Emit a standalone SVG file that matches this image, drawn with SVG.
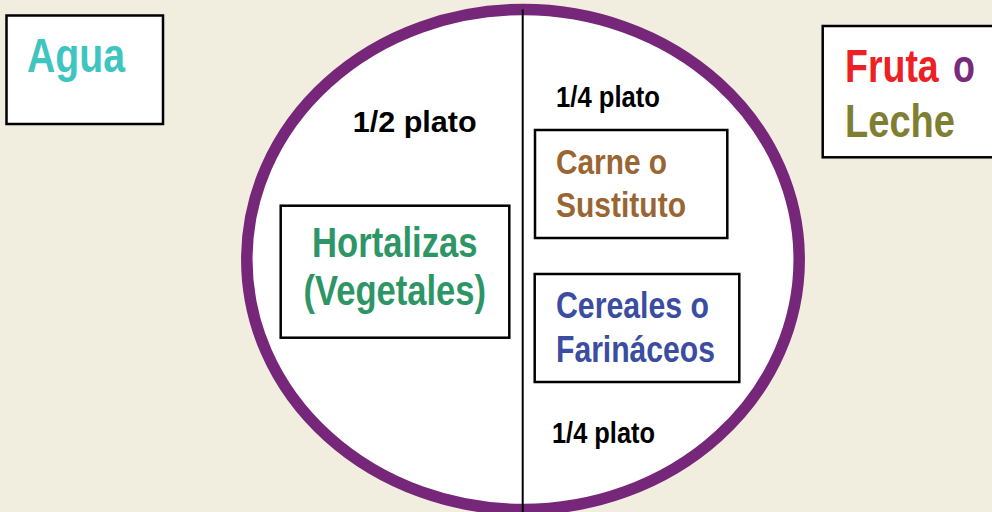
<svg xmlns="http://www.w3.org/2000/svg" width="992" height="512" viewBox="0 0 992 512">
<style>
text{font-family:"Liberation Sans",Arial,sans-serif;font-weight:bold}
.box{fill:#ffffff;stroke:#000000;stroke-width:2.5}
.plato{fill:#000000;font-size:30px}
</style>
<rect x="0" y="0" width="992" height="512" fill="#F1EEDF"/>
<g id="plate">
<ellipse cx="523" cy="259.5" rx="276.2" ry="250" fill="#ffffff" stroke="#76277A" stroke-width="11.5"/>
</g>
<g id="connectors">
<line x1="522.7" y1="9.5" x2="522.7" y2="512" stroke="#000000" stroke-width="2"/>
</g>
<g id="agua">
<rect class="box" x="6.5" y="15.5" width="156.5" height="108.5"/>
<text x="27" y="71.7" font-size="48" fill="#3FC5C0" textLength="98" lengthAdjust="spacingAndGlyphs">Agua</text>
</g>
<g id="fruta">
<rect class="box" x="822.7" y="26" width="180" height="131.3"/>
<text transform="translate(845,81.7) scale(0.815,1)" x="0" y="0" font-size="46" fill="#ED2024">Fruta</text>
<text transform="translate(953,81.7) scale(0.78,1)" x="0" y="0" font-size="46" fill="#782B7A">o</text>
<text x="845" y="136.7" font-size="46" fill="#7F7F34" textLength="110" lengthAdjust="spacingAndGlyphs">Leche</text>
</g>
<g id="half">
<text class="plato" x="352.7" y="131.7" font-size="32" textLength="124" lengthAdjust="spacingAndGlyphs">1/2 plato</text>
</g>
<g id="quarter-top">
<text class="plato" x="556" y="106.7" textLength="104" lengthAdjust="spacingAndGlyphs">1/4 plato</text>
</g>
<g id="quarter-bottom">
<text class="plato" x="552" y="443.3" textLength="103" lengthAdjust="spacingAndGlyphs">1/4 plato</text>
</g>
<g id="hortalizas">
<rect class="box" x="280.7" y="205.7" width="228.6" height="132"/>
<text x="312" y="256.7" font-size="42" fill="#2E9566" textLength="165.5" lengthAdjust="spacingAndGlyphs">Hortalizas</text>
<text x="303.5" y="305" font-size="42" fill="#2E9566" textLength="182.5" lengthAdjust="spacingAndGlyphs">(Vegetales)</text>
</g>
<g id="carne">
<rect class="box" x="535" y="130" width="192.3" height="108"/>
<text x="556" y="174" font-size="35" fill="#996633" textLength="111" lengthAdjust="spacingAndGlyphs">Carne o</text>
<text x="556" y="216.7" font-size="35" fill="#996633" textLength="130" lengthAdjust="spacingAndGlyphs">Sustituto</text>
</g>
<g id="cereales">
<rect class="box" x="534.7" y="274" width="204.6" height="108"/>
<text x="556" y="318.3" font-size="36" fill="#3A4DA0" textLength="153" lengthAdjust="spacingAndGlyphs">Cereales o</text>
<text x="556" y="361.7" font-size="36" fill="#3A4DA0" textLength="159" lengthAdjust="spacingAndGlyphs">Farináceos</text>
</g>
</svg>
